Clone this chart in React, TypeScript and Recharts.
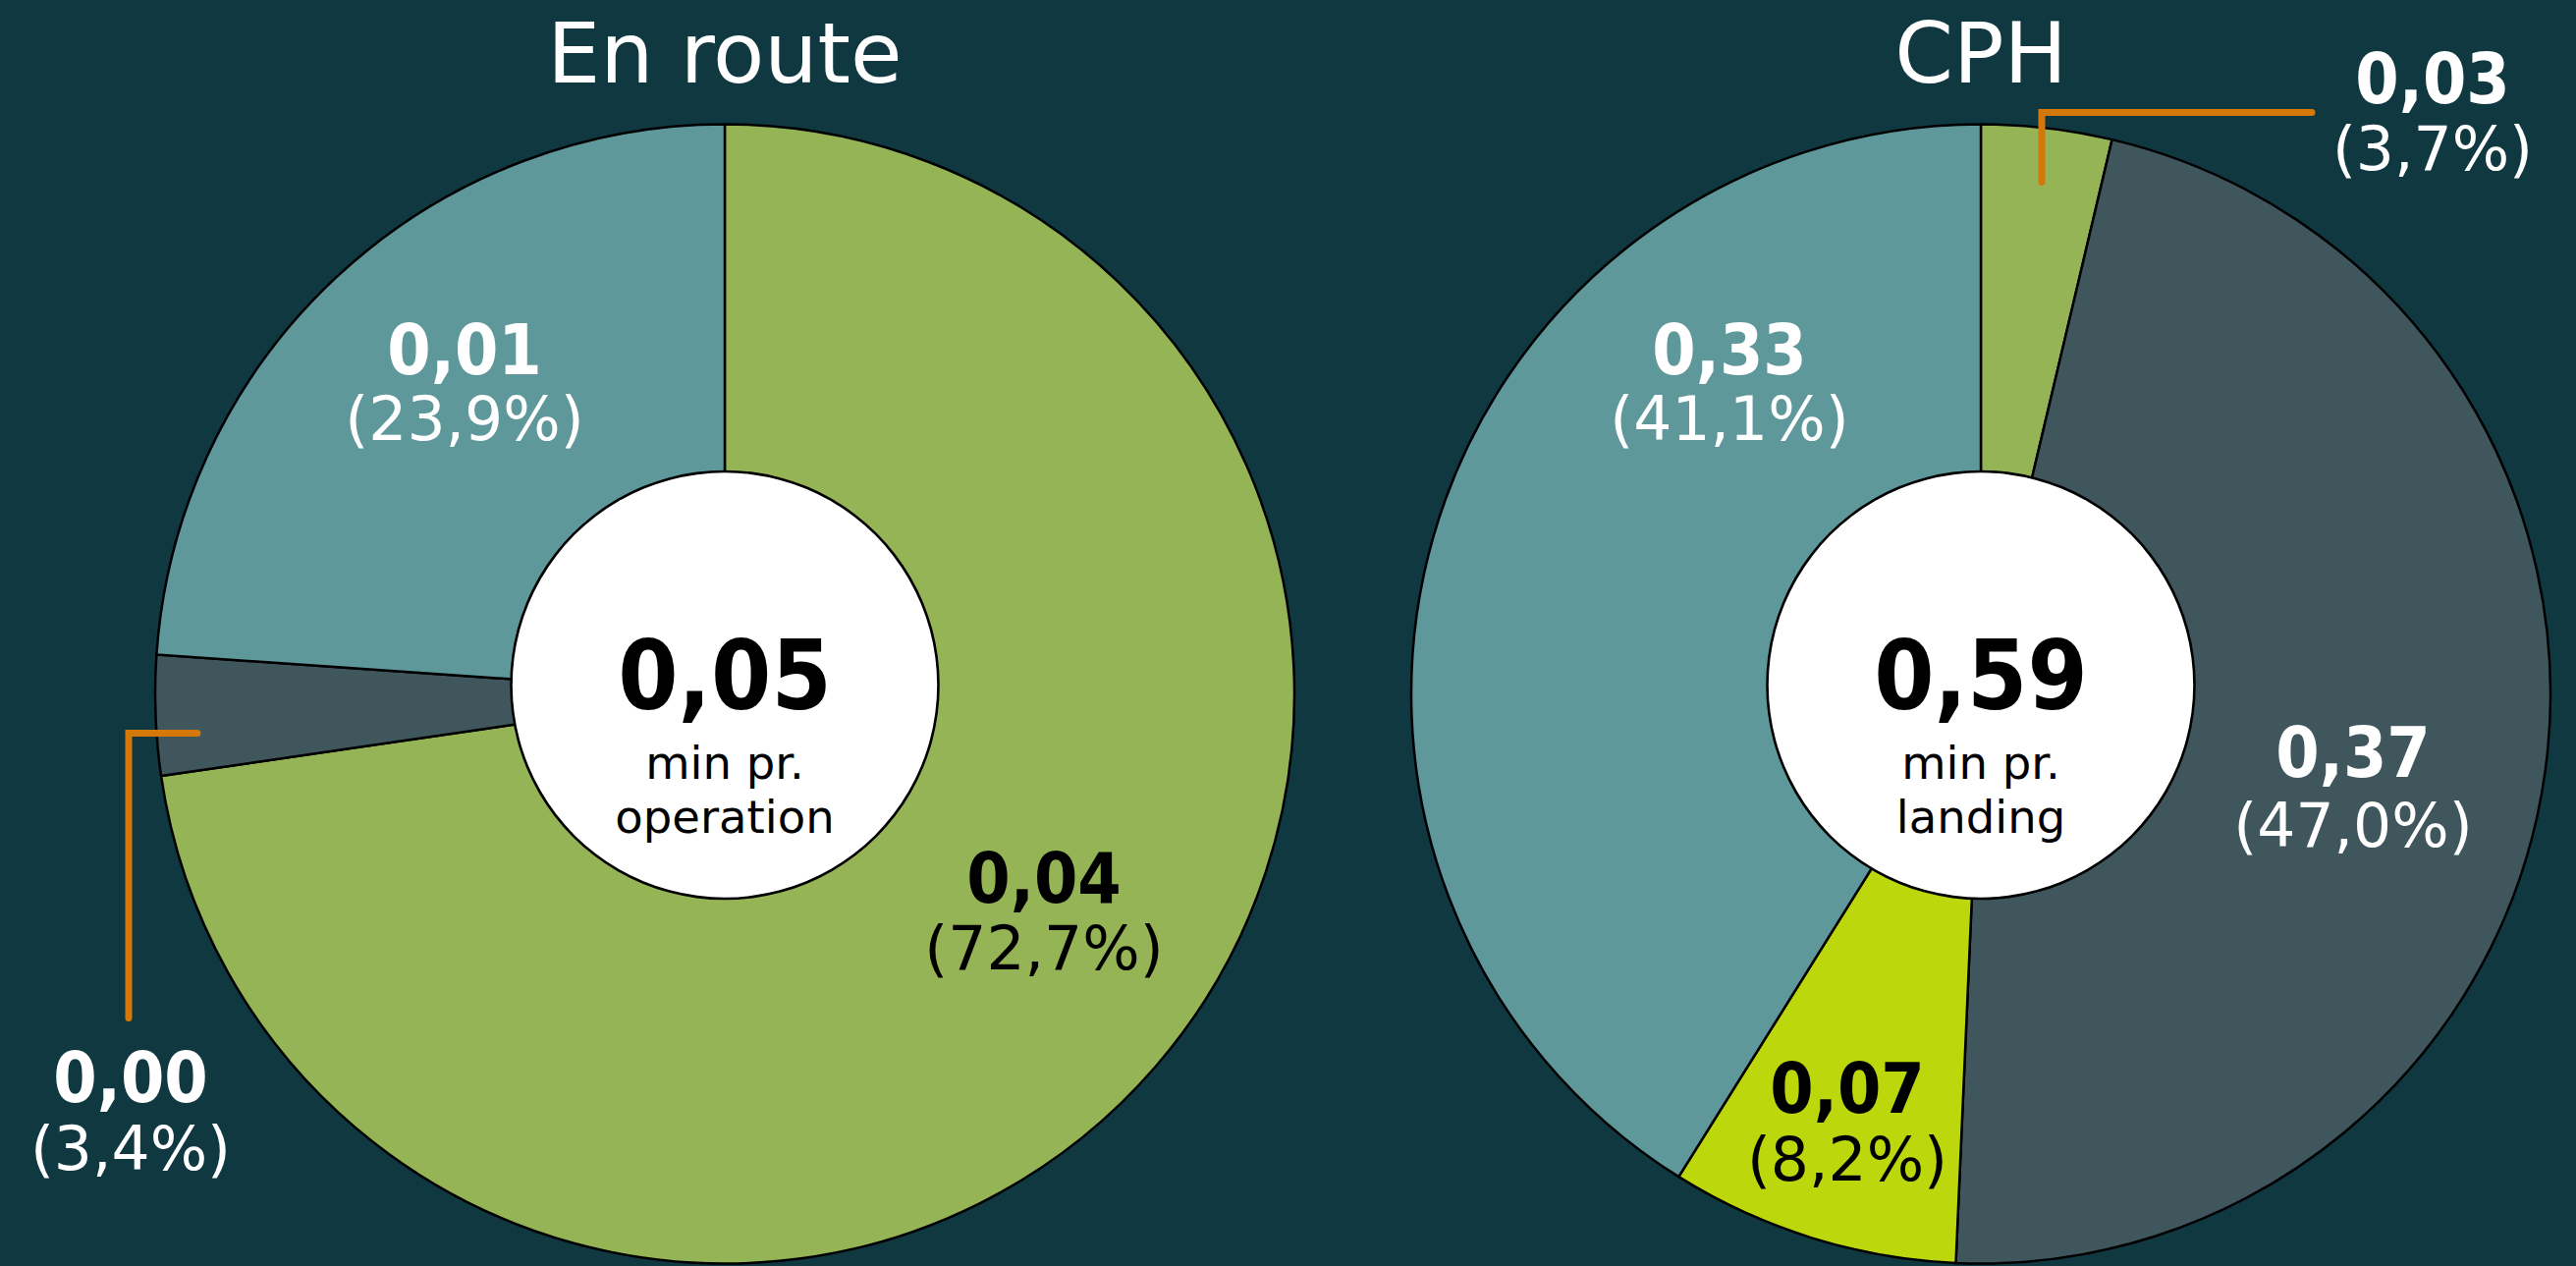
import { Cell, Pie, PieChart } from "recharts";

const TITLES = ["En route", "CPH"];
const TOTALS = ["0,05", "0,59"];
const UNIT_LINES = [
  ["min pr.", "operation"],
  ["min pr.", "landing"],
];

const EN_ROUTE_VALUES = ["0,04", "0,00", "0,01"];
const EN_ROUTE_SHARES = [72.7, 3.4, 23.9];

const CPH_VALUES = ["0,03", "0,37", "0,07", "0,33"];
const CPH_SHARES = [3.7, 47.0, 8.2, 41.1];

const BG = "#0f3841";
const GREEN = "#95b456";
const TEAL = "#5e989b";
const SLATE = "#3f565c";
const LIME = "#bcd80c";
const ORANGE = "#d4780a";

const EN_ROUTE_COLORS = [GREEN, SLATE, TEAL];
const CPH_COLORS = [GREEN, SLATE, LIME, TEAL];

const BOLD_FONT = "'DejaVu Sans Condensed', 'DejaVu Sans', sans-serif";
const FONT = "'DejaVu Sans', sans-serif";

// label placement relative to pie centre: value baseline, percent baseline, optional leader
type LabelSpot = {
  dx: number;
  dy: number;
  dy2: number;
  ink: string;
  leader?: { x: number; y1: number; y2: number; x2: number };
};

const EN_ROUTE_SPOTS: LabelSpot[] = [
  { dx: 325, dy: 212, dy2: 280, ink: "#000" },
  {
    dx: -605,
    dy: 415,
    dy2: 484,
    ink: "#fff",
    leader: { x: -607, y1: 330, y2: 40, x2: -537 },
  },
  { dx: -265, dy: -326, dy2: -259, ink: "#fff" },
];

const CPH_SPOTS: LabelSpot[] = [
  {
    dx: 460,
    dy: -602,
    dy2: -534,
    ink: "#fff",
    leader: { x: 62, y1: -521, y2: -592, x2: 337 },
  },
  { dx: 379, dy: 84, dy2: 155, ink: "#fff" },
  { dx: -136, dy: 426, dy2: 495, ink: "#000" },
  { dx: -256, dy: -326, dy2: -259, ink: "#fff" },
];

const PIE_CX = [738, 2017];
const PIE_CY = 706.5;
const HOLE_CY = 697.5;
const OUTER_R = 580;
const HOLE_R = 217.5;

function formatShare(share: number) {
  return `(${share.toFixed(1).replace(".", ",")}%)`;
}

function sliceLabel(spots: LabelSpot[]) {
  return (props: any) => {
    const { cx, cy, index, payload } = props;
    const spot = spots[index];
    const x = cx + spot.dx;
    return (
      <g key={`lbl-${index}`}>
        {spot.leader && (
          <path
            d={`M${cx + spot.leader.x},${cy + spot.leader.y1} V${cy + spot.leader.y2} H${cx + spot.leader.x2}`}
            fill="none"
            stroke={ORANGE}
            strokeWidth={7}
            strokeLinecap="round"
          />
        )}
        <text
          x={x}
          y={cy + spot.dy}
          textAnchor="middle"
          fill={spot.ink}
          fontFamily={BOLD_FONT}
          fontWeight="bold"
          fontSize={71}
        >
          {payload.label}
        </text>
        <text
          x={x}
          y={cy + spot.dy2}
          textAnchor="middle"
          fill={spot.ink}
          fontFamily={FONT}
          fontSize={61.5}
        >
          {formatShare(payload.share)}
        </text>
      </g>
    );
  };
}

function centerLabel(chart: number) {
  return (props: any) => {
    const { cx, cy } = props;
    return (
      <g key={`center-${chart}`}>
        <text
          x={cx}
          y={cy - 613.5}
          textAnchor="middle"
          fill="#fff"
          fontFamily={FONT}
          fontSize={85.5}
        >
          {TITLES[chart]}
        </text>
        <text
          x={cx}
          y={cy + 24.5}
          textAnchor="middle"
          fill="#000"
          fontFamily={BOLD_FONT}
          fontWeight="bold"
          fontSize={98}
        >
          {TOTALS[chart]}
        </text>
        <text
          x={cx}
          y={cy + 95.5}
          textAnchor="middle"
          fill="#000"
          fontFamily={FONT}
          fontSize={46.5}
        >
          {UNIT_LINES[chart][0]}
        </text>
        <text
          x={cx}
          y={cy + 150.5}
          textAnchor="middle"
          fill="#000"
          fontFamily={FONT}
          fontSize={46.5}
        >
          {UNIT_LINES[chart][1]}
        </text>
      </g>
    );
  };
}

export default function App() {
  const enRoute = EN_ROUTE_SHARES.map((share, i) => ({
    label: EN_ROUTE_VALUES[i],
    share,
  }));
  const cph = CPH_SHARES.map((share, i) => ({
    label: CPH_VALUES[i],
    share,
  }));
  const charts = [
    { rows: enRoute, colors: EN_ROUTE_COLORS, spots: EN_ROUTE_SPOTS },
    { rows: cph, colors: CPH_COLORS, spots: CPH_SPOTS },
  ];
  const disc = [{ share: 1 }];

  return (
    <div style={{ width: 2623, height: 1289, background: BG, overflow: "hidden" }}>
      <style>{"body{margin:0;background:" + BG + ";}"}</style>
      <PieChart width={2623} height={1289} margin={{ top: 0, right: 0, bottom: 0, left: 0 }}>
        {charts.map((chart, c) => (
          <Pie
            key={`pie-${c}`}
            data={chart.rows}
            dataKey="share"
            nameKey="label"
            cx={PIE_CX[c]}
            cy={PIE_CY}
            innerRadius={0}
            outerRadius={OUTER_R}
            startAngle={90}
            endAngle={-270}
            stroke="#000"
            strokeWidth={2.5}
            label={sliceLabel(chart.spots)}
            labelLine={false}
            isAnimationActive={false}
          >
            {chart.rows.map((row, i) => (
              <Cell key={row.label + i} fill={chart.colors[i]} />
            ))}
          </Pie>
        ))}
        {charts.map((_, c) => (
          <Pie
            key={`hole-${c}`}
            data={disc}
            dataKey="share"
            cx={PIE_CX[c]}
            cy={HOLE_CY}
            innerRadius={0}
            outerRadius={HOLE_R}
            startAngle={90}
            endAngle={-270}
            fill="#fff"
            stroke="none"
            isAnimationActive={false}
          />
        ))}
        {charts.map((_, c) => (
          <Pie
            key={`ring-${c}`}
            data={disc}
            dataKey="share"
            cx={PIE_CX[c]}
            cy={HOLE_CY}
            innerRadius={HOLE_R - 1.3}
            outerRadius={HOLE_R + 1.3}
            startAngle={90}
            endAngle={-270}
            fill="#000"
            stroke="none"
            label={centerLabel(c)}
            labelLine={false}
            isAnimationActive={false}
          />
        ))}
      </PieChart>
    </div>
  );
}
